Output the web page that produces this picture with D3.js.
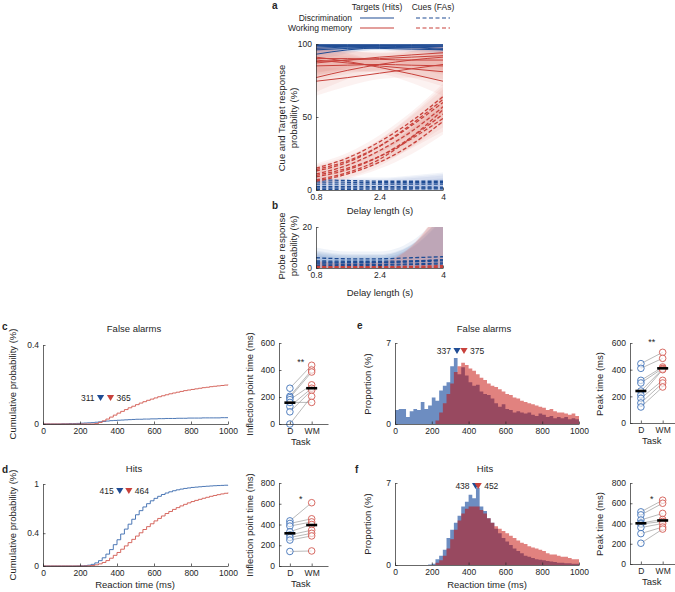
<!DOCTYPE html>
<html>
<head>
<meta charset="utf-8">
<script src="https://cdn.jsdelivr.net/npm/d3@7"></script>
<style>
  body { margin: 0; background: #fff; }
  svg { display: block; }
</style>
</head>
<body>
<svg id="fig" width="675" height="592"></svg>
<script>
// --- données ---
const delays = [0.8, 1.6, 2.4, 3.2, 4]

// a : probabilité de réponse (%) selon le délai
const hitsD = [
  [99.5, 99.5, 99.5, 99.5, 99.5],
  [99, 99, 99, 98.8, 98.5],
  [98, 98.5, 98.5, 98, 97],
  [93, 96, 97.5, 98, 98.5],
  [96, 97, 97.5, 97.5, 96],
  [99, 98, 97, 96.5, 96],
  [97, 98, 98.5, 99, 99.2],
]
const hitsWM = [
  [77, 82, 86, 89, 91],
  [74.5, 77, 80, 83, 86],
  [91, 88, 84, 79.5, 74.5],
  [89, 87, 85, 83, 81],
  [87, 89, 91, 92.5, 94],
  [85, 85.5, 86, 85.5, 85],
  [90, 90, 89.5, 89, 89],
  [88, 89, 90, 91, 92],
]
const faWM = [
  [15, 22, 33, 47, 64],
  [14, 20, 30, 44, 60],
  [11, 17, 27, 40, 57],
  [9, 14, 23, 36, 52],
  [7, 12, 21, 36, 55],
  [6, 11, 19, 31, 47],
  [10, 15, 23, 35, 49],
  [13, 19, 30, 45, 62],
]
const faD = [
  [7, 6.5, 6, 6, 6],
  [5.5, 5.3, 5, 5, 5],
  [4, 4, 4, 4, 4],
  [2.5, 2.5, 2.3, 2.2, 2],
  [1.5, 1.5, 1.5, 1.5, 1.5],
  [0.5, 0.5, 0.6, 0.7, 0.8],
]
// demi-largeurs des intervalles de confiance
const ciHitsD = [4, 2.5, 1.5, 2, 3]
const ciHitsWM = [10, 6, 4, 6, 10]
const ciFaWM = [3, 3.5, 4.5, 6.5, 9]
const ciFaD = [2, 2, 2.5, 4, 6]

// b : probabilité de réponse à la sonde (%)
const probeD = [
  [5, 4.5, 4.5, 5, 5.5],
  [3.5, 3.3, 3.3, 3.5, 4],
  [2.5, 2.5, 2.6, 3, 3.5],
  [2, 1.8, 1.8, 2, 2.5],
  [1.3, 1.2, 1.3, 1.6, 2],
  [3, 2.8, 2.8, 3.2, 4],
]
const probeWM = [
  [0.8, 0.6, 0.6, 0.8, 1.2],
  [0.4, 0.3, 0.3, 0.4, 0.6],
  [0.1, 0.1, 0.1, 0.2, 0.3],
]
const ciProbeD = [5, 3.5, 3.5, 8, 22]
const ciProbeWM = [3, 2, 2.5, 10, 30]

// c, d : fonctions de répartition, pas de 20 ms (0 → 1000)
const cdfFaD = [0,0,0,0,0,0.001,0.001,0.002,0.002,0.003, 0.004,0.005,0.006,0.007,0.009,0.011,0.013,0.015,0.017,0.018,
  0.019,0.020,0.021,0.022,0.023,0.024,0.024,0.025,0.025,0.026, 0.026,0.027,0.027,0.028,0.028,0.028,0.029,0.029,0.029,0.030,
  0.030,0.030,0.030,0.031,0.031,0.031,0.031,0.031,0.032,0.032, 0.032]
const cdfFaWM = [0,0,0,0,0,0,0,0,0,0, 0,0,0,0,0.002,0.008,0.016,0.025,0.035,0.045,
  0.055,0.064,0.073,0.082,0.09,0.098,0.106,0.113,0.12,0.126, 0.132,0.138,0.143,0.148,0.153,0.157,0.161,0.165,0.169,0.172,
  0.175,0.178,0.181,0.184,0.186,0.189,0.191,0.193,0.195,0.197, 0.199]
const cdfHitD = [0,0,0,0,0,0,0,0,0,0.001, 0.002,0.004,0.01,0.02,0.038,0.065,0.1,0.145,0.2,0.26,
  0.32,0.39,0.45,0.51,0.57,0.625,0.675,0.72,0.76,0.795, 0.825,0.85,0.872,0.89,0.905,0.918,0.929,0.938,0.946,0.952,
  0.958,0.962,0.966,0.97,0.973,0.976,0.979,0.981,0.983,0.985, 0.987]
const cdfHitWM = [0,0,0,0,0,0,0,0,0,0, 0,0,0.002,0.006,0.014,0.026,0.043,0.066,0.095,0.13,
  0.165,0.205,0.245,0.285,0.325,0.365,0.405,0.445,0.48,0.515, 0.55,0.58,0.61,0.64,0.665,0.69,0.712,0.733,0.752,0.77,
  0.786,0.8,0.813,0.826,0.838,0.85,0.86,0.87,0.879,0.887, 0.895]

// e, f : histogrammes (%), classes de 20 ms
const histFaD = [1.2,1.3,1.3,0.6,1.1,1.3,1.2,1.9,1.3,1.6, 2.3,2.0,2.9,3.3,3.6,5.0,5.7,4.3,4.9,4.2,
  3.6,3.3,3.4,2.8,2.6,2.5,2.2,1.8,1.5,1.7, 1.3,1.2,1.0,1.1,1.0,0.9,1.0,0.8,0.7,0.9,
  0.8,0.6,0.7,0.5,0.6,0.5,0.6,0.4,0.5,0.4]
const histFaWM = [0,0,0,0,0,0,0,0,0,0, 0,0.3,1.0,1.8,2.6,3.5,4.5,5.0,5.3,5.1,
  4.8,4.6,4.3,4.0,3.8,3.5,3.3,3.2,3.0,2.8, 2.6,2.5,2.3,2.2,2.0,1.9,1.8,1.7,1.6,1.5,
  1.4,1.2,1.3,1.1,1.0,1.0,0.9,0.8,0.9,0.7]
const histHitD = [0,0,0,0,0,0,0,0,0,0.05, 0.1,0.5,0.8,1.3,2.3,3.0,3.6,4.2,5.0,5.4,
  6.0,5.7,6.6,5.0,4.6,4.0,3.6,3.1,2.7,2.3, 2.0,1.7,1.4,1.2,1.0,0.8,0.7,0.6,0.5,0.45,
  0.4,0.35,0.3,0.25,0.2,0.2,0.15,0.15,0.1,0.1]
const histHitWM = [0,0,0,0,0,0,0,0,0,0, 0,0.2,0.4,0.8,1.4,2.2,3.0,3.8,4.4,4.8,
  5.0,5.0,5.0,4.7,4.4,4.0,3.6,3.3,3.1,2.9, 2.7,2.5,2.3,2.1,1.9,1.8,1.6,1.5,1.4,1.3,
  1.2,1.0,0.9,0.9,0.8,0.7,0.7,0.6,0.5,0.5]

// repères (triangles) : D puis WM
const markFa = [311, 365], markHit = [415, 464]
const markFaPeak = [337, 375], markHitPeak = [438, 452]

// panneaux de droite : valeurs par session, appariées D → WM
const tasks = ["D", "WM"]
const inflFaD = [265, 205, 195, 180, 130, 90, 0, 160]
const inflFaWM = [435, 400, 385, 290, 265, 250, 205, 160]
const inflHitD = [435, 410, 385, 330, 300, 275, 250, 140]
const inflHitWM = [610, 455, 425, 400, 345, 315, 290, 145]
const peakFaD = [445, 410, 320, 300, 240, 210, 185, 150, 120]
const peakFaWM = [530, 485, 420, 410, 405, 400, 320, 300, 270]
const peakHitD = [515, 485, 435, 405, 395, 360, 300, 205]
const peakHitWM = [630, 600, 500, 440, 420, 400, 365, 345]
const centers = { inflFa: [158, 265], inflHit: [315, 395], peakFa: [240, 410], peakHit: [402, 430] }

// --- style ---
const BLUE = "#1f4c94", RED = "#c8413b", INK = "#262626"
const FONT = '"Liberation Sans", Arial, sans-serif'
const svg = d3.select("#fig").attr("font-family", FONT)
const times = d3.range(0, 1001, 20)   // bords des classes

function txt(x, y, s, o = {}) {
  return svg.append("text").attr("x", x).attr("y", y)
    .attr("font-size", o.size || 9.5).attr("fill", o.fill || INK)
    .attr("text-anchor", o.anchor || "middle")
    .attr("font-weight", o.weight || null)
    .attr("transform", o.rot ? `rotate(-90,${x},${y})` : null)
    .text(s)
}

// axes façon MATLAB : ticks vers l'intérieur, pas de boîte
function axes(x, y, xt, yt, xf, yf) {
  const x0 = x.range()[0], y0 = y.range()[0]
  const gx = svg.append("g").attr("transform", `translate(0,${y0})`)
    .call(d3.axisBottom(x).tickValues(xt).tickFormat(xf || (d => d))
      .tickSizeInner(-2.5).tickSizeOuter(0).tickPadding(4))
  const gy = svg.append("g").attr("transform", `translate(${x0},0)`)
    .call(d3.axisLeft(y).tickValues(yt).tickFormat(yf || (d => d))
      .tickSizeInner(-2.5).tickSizeOuter(0).tickPadding(4))
  for (const g of [gx, gy]) {
    g.attr("font-family", FONT).attr("font-size", 8.5)
    g.selectAll("path, line").attr("stroke", INK).attr("stroke-width", 0.7)
    g.selectAll("text").attr("fill", INK)
  }
}

function clipRect(id, x, y) {
  const [x0, x1] = x.range(), [y0, y1] = y.range()
  svg.append("clipPath").attr("id", id).append("rect")
    .attr("x", x0).attr("y", y1).attr("width", x1 - x0).attr("height", y0 - y1)
  return svg.append("g").attr("clip-path", `url(#${id})`)
}

// Courbes ajustées + bandes de confiance : toutes les bandes d'abord, puis les courbes.
function fitLines(g, x, y, groups, yMax) {
  const band = d3.area().curve(d3.curveMonotoneX)
    .x((d, i) => x(delays[i])).y0(d => y(d[0])).y1(d => y(d[1]))
  const line = d3.line().curve(d3.curveMonotoneX).x((d, i) => x(delays[i])).y(d => y(d))
  for (const grp of groups) for (const v of grp.vals)
    g.append("path")
      .attr("d", band(v.map((p, i) => [Math.max(0, p - grp.ci[i]), Math.min(yMax, p + grp.ci[i])])))
      .attr("fill", grp.fill).attr("opacity", grp.a)
  for (const grp of groups) for (const v of grp.vals)
    g.append("path").attr("d", line(v)).attr("fill", "none")
      .attr("stroke", grp.stroke).attr("stroke-width", grp.dash ? 1.3 : 1)
      .attr("stroke-dasharray", grp.dash ? "4,2.2" : null)
}

// --- a ---
const xA = d3.scaleLinear([0.8, 4], [316, 443])
const yA = d3.scaleLinear([0, 100], [190, 44])
fitLines(clipRect("clipA", xA, yA), xA, yA, [
  { vals: hitsD, ci: ciHitsD, fill: "#4a78bd", a: 0.1, stroke: BLUE },
  { vals: faD, ci: ciFaD, fill: "#4a78bd", a: 0.08, stroke: BLUE, dash: true },
  { vals: hitsWM, ci: ciHitsWM, fill: "#e06a62", a: 0.09, stroke: RED },
  { vals: faWM, ci: ciFaWM, fill: "#e06a62", a: 0.09, stroke: RED, dash: true },
], 100)
axes(xA, yA, [0.8, 2.4, 4], [0, 50, 100])
txt(380, 214, "Delay length (s)")
txt(285, 118, "Cue and Target response", { rot: true })
txt(297, 118, "probability (%)", { rot: true })
txt(272, 9, "a", { weight: "bold", size: 10, anchor: "start" })

// légende
txt(377, 10, "Targets (Hits)", { size: 8.5 })
txt(433, 10, "Cues (FAs)", { size: 8.5 })
txt(352, 21, "Discrimination", { size: 8.5, anchor: "end" })
txt(352, 31, "Working memory", { size: 8.5, anchor: "end" })
for (const [c, yy] of [[BLUE, 18], [RED, 28]]) {
  svg.append("line").attr("x1", 360).attr("x2", 394).attr("y1", yy).attr("y2", yy)
    .attr("stroke", c).attr("stroke-width", 1.2)
  svg.append("line").attr("x1", 416).attr("x2", 450).attr("y1", yy).attr("y2", yy)
    .attr("stroke", c).attr("stroke-width", 1.2).attr("stroke-dasharray", "4,2.5")
}

// --- b ---
const yB = d3.scaleLinear([0, 20], [268, 227])
fitLines(clipRect("clipB", xA, yB), xA, yB, [
  { vals: probeD, ci: ciProbeD, fill: "#4a78bd", a: 0.09, stroke: BLUE, dash: true },
  { vals: probeWM, ci: ciProbeWM, fill: "#e06a62", a: 0.12, stroke: RED, dash: true },
], 100)
axes(xA, yB, [0.8, 2.4, 4], [0, 20])
txt(380, 296, "Delay length (s)")
txt(285, 246, "Probe response", { rot: true })
txt(297, 246, "probability (%)", { rot: true })
txt(272, 209, "b", { weight: "bold", size: 10, anchor: "start" })

// --- triangles repères ---
function marks(x, yTop, vals) {
  vals.forEach((v, i) => {
    const px = x(v)
    svg.append("path").attr("d", `M${px - 3.6},${yTop}L${px + 3.6},${yTop}L${px},${yTop + 6}Z`)
      .attr("fill", i ? RED : BLUE)
  })
  txt(x(vals[0]) - 6, yTop + 6, String(vals[0]), { size: 8.5, anchor: "end" })
  txt(x(vals[1]) + 6, yTop + 6, String(vals[1]), { size: 8.5, anchor: "start" })
}

// --- c, d : répartitions ---
const xC = d3.scaleLinear([0, 1000], [43, 228])
function cdfPanel(y, series, yt) {
  const line = d3.line().curve(d3.curveStepAfter).x((d, i) => xC(times[i])).y(d => y(d))
  series.forEach(([vals, c]) => svg.append("path").attr("d", line(vals))
    .attr("fill", "none").attr("stroke", c).attr("stroke-width", 0.9))
  axes(xC, y, [0, 200, 400, 600, 800, 1000], yt)
}
const yC = d3.scaleLinear([0, 0.4], [424, 345])
cdfPanel(yC, [[cdfFaD, "#3a6aae"], [cdfFaWM, "#d1584f"]], [0, 0.4])
marks(xC, 395, markFa)
txt(134, 332, "False alarms")
txt(16, 384, "Cumulative probability (%)", { rot: true })
txt(2, 330, "c", { weight: "bold", size: 10, anchor: "start" })

const yD = d3.scaleLinear([0, 1], [566, 484])
cdfPanel(yD, [[cdfHitD, "#3a6aae"], [cdfHitWM, "#d1584f"]], [0, 0.4, 1])
marks(xC, 488, markHit)
txt(134, 472, "Hits")
txt(16, 525, "Cumulative probability (%)", { rot: true })
txt(135, 588, "Reaction time (ms)")
txt(2, 473, "d", { weight: "bold", size: 10, anchor: "start" })

// --- e, f : histogrammes superposés ---
const xE = d3.scaleLinear([0, 1000], [395, 579])
function histPanel(y, hD, hWM) {
  const area = d3.area().curve(d3.curveStepAfter)
    .x((d, i) => xE(times[i])).y0(y(0)).y1(d => y(d))
  const close = h => [...h, h[h.length - 1]]
  svg.append("path").attr("d", area(close(hD))).attr("fill", "#1e50a0").attr("opacity", 0.65)
  svg.append("path").attr("d", area(close(hWM))).attr("fill", "#c30500").attr("opacity", 0.5)
  axes(xE, y, [0, 200, 400, 600, 800, 1000], [0, 7])
}
const yE = d3.scaleLinear([0, 7], [424, 343])
histPanel(yE, histFaD, histFaWM)
marks(xE, 348, markFaPeak)
txt(484, 332, "False alarms")
txt(371, 384, "Proportion (%)", { rot: true })
txt(357, 329, "e", { weight: "bold", size: 10, anchor: "start" })

const yF = d3.scaleLinear([0, 7], [565, 483])
histPanel(yF, histHitD, histHitWM)
marks(xE, 483, markHitPeak)
txt(485, 472, "Hits")
txt(371, 524, "Proportion (%)", { rot: true })
txt(487, 588, "Reaction time (ms)")
txt(355, 473, "f", { weight: "bold", size: 10, anchor: "start" })

// --- panneaux appariés D / WM ---
function pairPanel(x0, y, dVals, wmVals, center, yt, star, starY) {
  const x = d3.scaleLinear([0.5, 2.75], [x0, x0 + 49])
  dVals.forEach((v, i) => svg.append("line")
    .attr("x1", x(1)).attr("x2", x(2)).attr("y1", y(v)).attr("y2", y(wmVals[i]))
    .attr("stroke", "#8a8a8a").attr("stroke-width", 0.6))
  ;[[dVals, "#3f72b8", 1], [wmVals, "#d25a52", 2]].forEach(([vals, c, k]) =>
    vals.forEach(v => svg.append("circle").attr("cx", x(k)).attr("cy", y(v)).attr("r", 3.3)
      .attr("fill", "#fff").attr("fill-opacity", 0.6).attr("stroke", c).attr("stroke-width", 0.9)))
  center.forEach((v, k) => svg.append("line")
    .attr("x1", x(k + 1) - 5.5).attr("x2", x(k + 1) + 5.5).attr("y1", y(v)).attr("y2", y(v))
    .attr("stroke", "#000").attr("stroke-width", 2.6))
  axes(x, y, [1, 2], yt, i => tasks[i - 1])
  txt((x(1) + x(2)) / 2, starY, star, { size: 9 })
  txt((x(1) + x(2)) / 2, y.range()[0] + 21, "Task")
}
pairPanel(279, d3.scaleLinear([0, 600], [424, 343]), inflFaD, inflFaWM, centers.inflFa, [0, 200, 400, 600], "**", 365)
txt(253, 384, "Inflection point time (ms)", { rot: true })
pairPanel(279, d3.scaleLinear([0, 800], [566, 483]), inflHitD, inflHitWM, centers.inflHit, [0, 200, 400, 600, 800], "*", 502)
txt(253, 525, "Inflection point time (ms)", { rot: true })
pairPanel(630, d3.scaleLinear([0, 600], [423, 343]), peakFaD, peakFaWM, centers.peakFa, [0, 200, 400, 600], "**", 345)
txt(603, 384, "Peak time (ms)", { rot: true })
pairPanel(630, d3.scaleLinear([0, 800], [564, 483]), peakHitD, peakHitWM, centers.peakHit, [0, 200, 400, 600, 800], "*", 502)
txt(603, 524, "Peak time (ms)", { rot: true })
</script>
</body>
</html>
